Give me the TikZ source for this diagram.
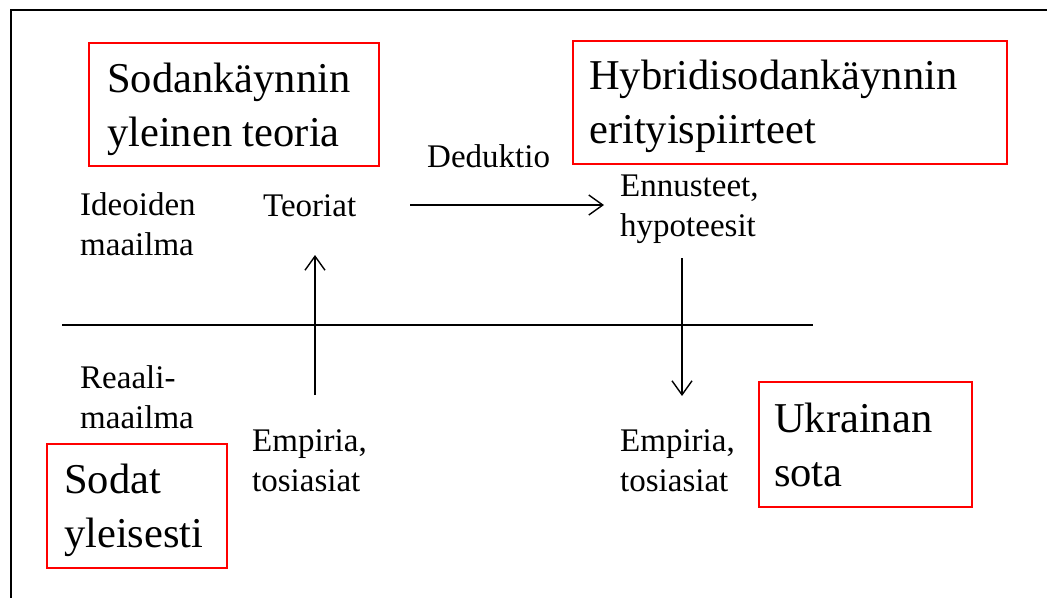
\documentclass[tikz,border=0pt]{standalone}
\usepackage{fontspec}
\setmainfont{Liberation Serif}
\usetikzlibrary{arrows.meta}
\begin{document}
\begin{tikzpicture}[x=1pt,y=-1pt,
  redbox/.style={draw=red, line width=2pt},
  big/.style={anchor=base west, inner sep=0pt, align=left, font=\fontsize{42.5}{54}\selectfont},
  small/.style={anchor=base west, inner sep=0pt, align=left, font=\fontsize{33}{40}\selectfont},
  arr/.style={line width=1.4pt, -{Straight Barb[length=14pt,width=20pt,line width=1.4pt]}}]
\useasboundingbox (0,0) rectangle (1047,598);
% frame (top and left)
\draw[line width=2pt] (1047,10) -- (11,10) -- (11,598);
% red boxes
\draw[redbox] (89,43) rectangle (379,166);
\draw[redbox] (573,41) rectangle (1007,164);
\draw[redbox] (47,444) rectangle (227,568);
\draw[redbox] (759,382) rectangle (972,507);
% big texts (anchor = baseline of last line)
\node[big] (t1) at (107,146) {Sodankäynnin\\yleinen teoria};
\node[big] (t2) at (589,143) {Hybridisodankäynnin\\erityispiirteet};
\node[big] (t3) at (64,547) {Sodat\\yleisesti};
\node[big] (t4) at (774,486) {Ukrainan\\sota};
% small texts
\node[small] (ideo) at (80,255) {Ideoiden\\maailma};
\node[small] (teor) at (263,216) {Teoriat};
\node[small] (dedu) at (427,167) {Deduktio};
\node[small] (ennu) at (620,236) {Ennusteet,\\hypoteesit};
\node[small] (reaa) at (80,428) {Reaali-\\maailma};
\node[small] (emp1) at (252,491) {Empiria,\\tosiasiat};
\node[small] (emp2) at (620,491) {Empiria,\\tosiasiat};
% divider
\coordinate (hl) at (62,325);
\coordinate (hr) at (813,325);
\draw[line width=1.4pt] (hl) -- (hr);
% arrows
\coordinate (a1s) at (315,395);
\coordinate (a1e) at (315,255);
\coordinate (a2s) at (410,205);
\coordinate (a2e) at (604,205);
\coordinate (a3s) at (682,258);
\coordinate (a3e) at (682,396);
\draw[arr] (a1s) -- (a1e);
\draw[arr] (a2s) -- (a2e);
\draw[arr] (a3s) -- (a3e);
\end{tikzpicture}
\end{document}
